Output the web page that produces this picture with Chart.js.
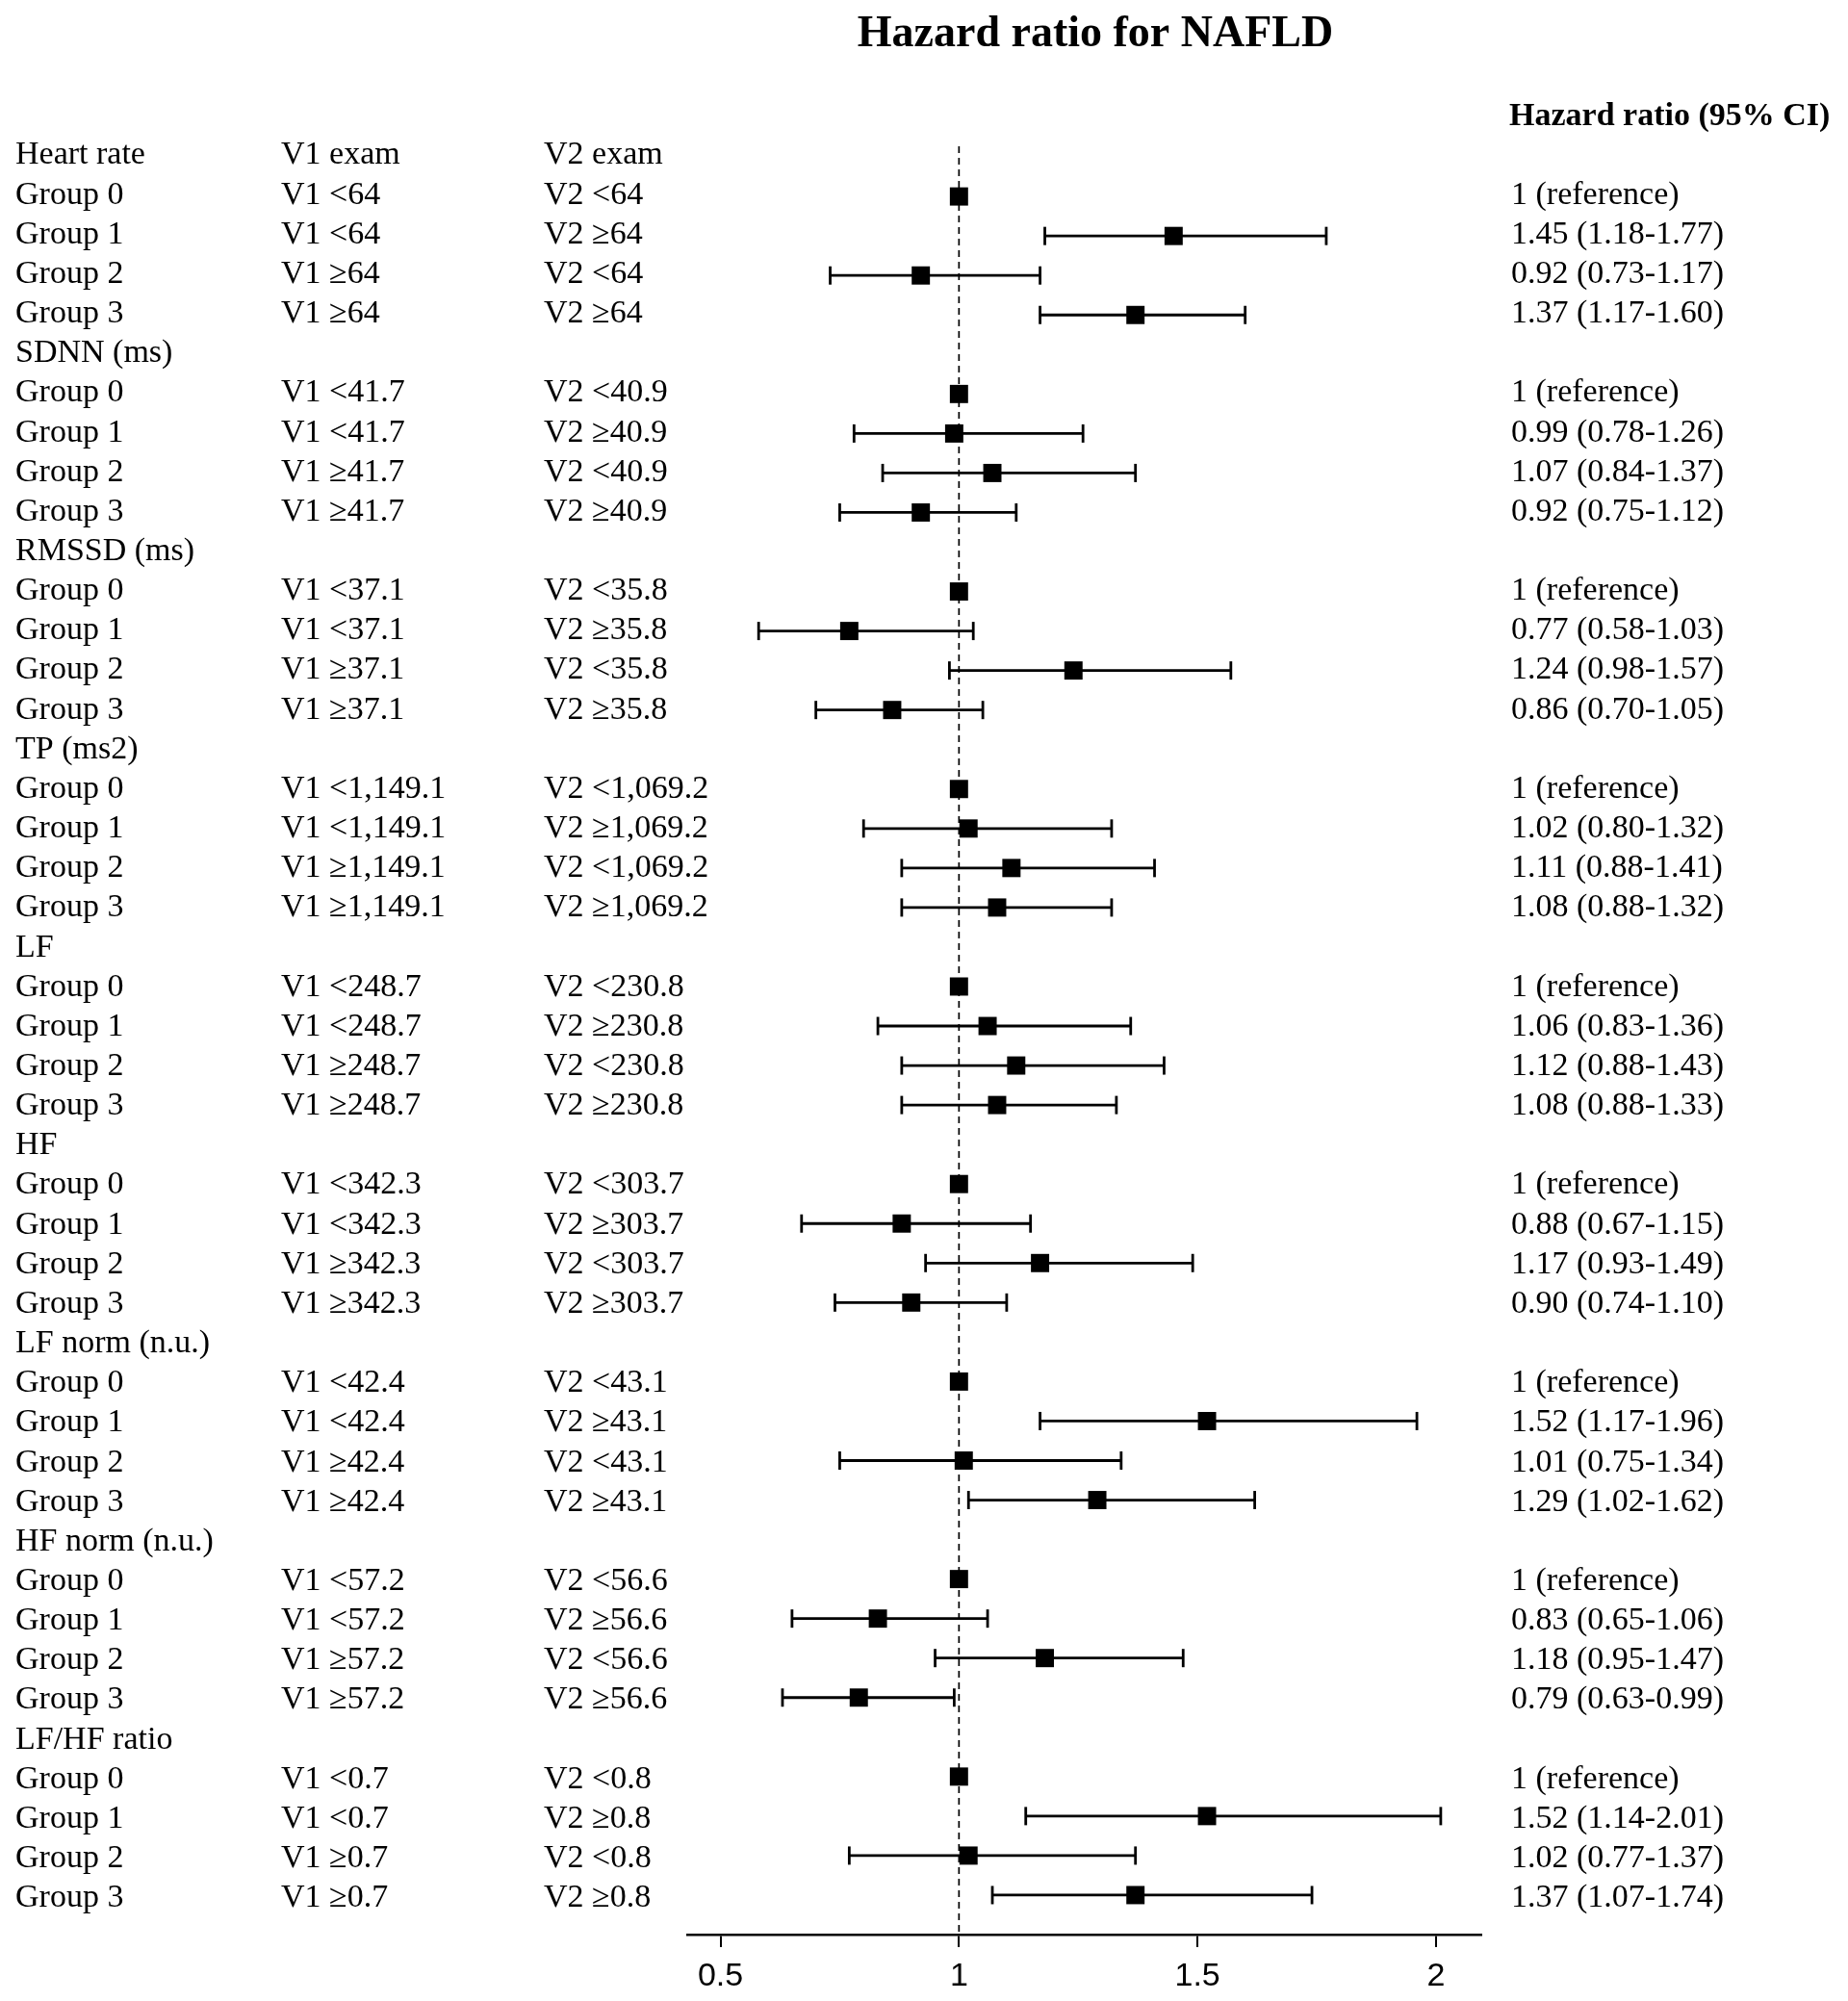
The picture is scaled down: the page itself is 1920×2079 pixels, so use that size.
<!DOCTYPE html>
<html>
<head>
<meta charset="utf-8">
<title>Hazard ratio for NAFLD</title>
<script src="https://cdn.jsdelivr.net/npm/chart.js@4.4.1/dist/chart.umd.min.js"></script>
<style>
  html, body { margin: 0; padding: 0; background: #fff; }
  #wrap { width: 1920px; height: 2079px; position: relative; }
</style>
</head>
<body>
<div id="wrap"><canvas id="forestChart"></canvas></div>
<script>
const categories = ['Heart rate', 'SDNN (ms)', 'RMSSD (ms)', 'TP (ms2)', 'LF', 'HF',
                    'LF norm (n.u.)', 'HF norm (n.u.)', 'LF/HF ratio'];
const groups = ['Group 0', 'Group 1', 'Group 2', 'Group 3'];
const v1Cutoffs = ['64', '41.7', '37.1', '1,149.1', '248.7', '342.3', '42.4', '57.2', '0.7'];
const v2Cutoffs = ['64', '40.9', '35.8', '1,069.2', '230.8', '303.7', '43.1', '56.6', '0.8'];

// 4 groups per category, group 0 is the reference
const hrEstimate = [1, 1.45, 0.92, 1.37,  1, 0.99, 1.07, 0.92,  1, 0.77, 1.24, 0.86,
                    1, 1.02, 1.11, 1.08,  1, 1.06, 1.12, 1.08,  1, 0.88, 1.17, 0.90,
                    1, 1.52, 1.01, 1.29,  1, 0.83, 1.18, 0.79,  1, 1.52, 1.02, 1.37];
const hrLower =    [1, 1.18, 0.73, 1.17,  1, 0.78, 0.84, 0.75,  1, 0.58, 0.98, 0.70,
                    1, 0.80, 0.88, 0.88,  1, 0.83, 0.88, 0.88,  1, 0.67, 0.93, 0.74,
                    1, 1.17, 0.75, 1.02,  1, 0.65, 0.95, 0.63,  1, 1.14, 0.77, 1.07];
const hrUpper =    [1, 1.77, 1.17, 1.60,  1, 1.26, 1.37, 1.12,  1, 1.03, 1.57, 1.05,
                    1, 1.32, 1.41, 1.32,  1, 1.36, 1.43, 1.33,  1, 1.15, 1.49, 1.10,
                    1, 1.96, 1.34, 1.62,  1, 1.06, 1.47, 0.99,  1, 2.01, 1.37, 1.74];
const xTickValues = [0.5, 1, 1.5, 2];

function rowOf(i) {
    return Math.floor(i / 4) * 5 + 1 + (i % 4);
}

function hrText(i) {
    if (i % 4 === 0) return '1 (reference)';
    return `${hrEstimate[i].toFixed(2)} (${hrLower[i].toFixed(2)}-${hrUpper[i].toFixed(2)})`;
}

// text table, one entry per plotted row
const rowLabels = [];
categories.forEach((cat, c) => {
    rowLabels.push({
        name: cat,
        v1: c === 0 ? 'V1 exam' : '',
        v2: c === 0 ? 'V2 exam' : '',
        hr: ''
    });
    groups.forEach((g, k) => {
        const i = c * 4 + k;
        rowLabels.push({
            name: g,
            v1: (k < 2 ? 'V1 <' : 'V1 \u2265') + v1Cutoffs[c],
            v2: (k % 2 === 0 ? 'V2 <' : 'V2 \u2265') + v2Cutoffs[c],
            hr: hrText(i)
        });
    });
});

const boxPoints = hrEstimate.map((v, i) => ({ x: v, y: rowOf(i) }));

// whiskers: one segment per non-reference row, broken by gaps
const ciPoints = [];
hrEstimate.forEach((v, i) => {
    if (i % 4 === 0) return;
    ciPoints.push({ x: hrLower[i], y: rowOf(i) });
    ciPoints.push({ x: hrUpper[i], y: rowOf(i) });
    ciPoints.push({ x: null, y: null });
});

const lastRow = rowLabels.length;

// text lines in the original sit on a slightly wider pitch than the boxes
const textPitch = 1.0027;

const forestText = {
    id: 'forestText',
    afterDraw(chart) {
        const ctx = chart.ctx;
        const yScale = chart.scales.y;
        const textY = i => yScale.getPixelForValue(1 + (i - 1) * textPitch) + 7.5;
        ctx.save();
        ctx.fillStyle = '#000';
        ctx.textBaseline = 'alphabetic';

        ctx.textAlign = 'center';
        ctx.font = 'bold 46px "Liberation Serif"';
        ctx.fillText('Hazard ratio for NAFLD', 1138, 48);

        ctx.textAlign = 'left';
        ctx.font = 'bold 34px "Liberation Serif"';
        ctx.fillText('Hazard ratio (95% CI)', 1568, textY(-1) + 1);

        ctx.font = '34px "Liberation Serif"';
        rowLabels.forEach((r, i) => {
            const py = textY(i);
            ctx.fillText(r.name, 16, py);
            if (r.v1) ctx.fillText(r.v1, 292, py);
            if (r.v2) ctx.fillText(r.v2, 565, py);
            if (r.hr) ctx.fillText(r.hr, 1570, py);
        });
        ctx.restore();
    }
};

new Chart(document.getElementById('forestChart'), {
    data: {
        datasets: [
            {
                type: 'scatter',
                data: boxPoints,
                pointStyle: 'rect',
                pointRadius: 13.4,
                pointHoverRadius: 13.4,
                backgroundColor: '#000',
                borderWidth: 0
            },
            {
                type: 'line',
                data: ciPoints,
                borderColor: '#000',
                borderWidth: 2.8,
                spanGaps: false,
                pointStyle: 'line',
                pointRotation: 90,
                pointRadius: 9.5,
                pointHoverRadius: 9.5,
                pointBorderWidth: 2.8,
                pointBorderColor: '#000'
            },
            {
                type: 'line',
                data: [{ x: 1, y: -0.27 }, { x: 1, y: lastRow }],
                borderColor: '#000',
                borderWidth: 1.7,
                borderDash: [7, 5],
                pointRadius: 0
            }
        ]
    },
    options: {
        responsive: true,
        maintainAspectRatio: false,
        devicePixelRatio: 1,
        animation: false,
        layout: { padding: { left: 714, right: 381, top: 152, bottom: 0 } },
        plugins: {
            legend: { display: false },
            tooltip: { enabled: false }
        },
        scales: {
            x: {
                type: 'linear',
                position: 'bottom',
                min: 0.4303,
                max: 2.095,
                afterBuildTicks: scale => {
                    scale.ticks = xTickValues.map(v => ({ value: v }));
                },
                afterFit: scale => {
                    scale.height = 69;
                },
                grid: {
                    drawOnChartArea: false,
                    drawTicks: true,
                    tickLength: 13,
                    color: '#000',
                    lineWidth: 2
                },
                border: { display: true, color: '#000', width: 2.5 },
                ticks: {
                    color: '#000',
                    padding: 10,
                    maxRotation: 0,
                    autoSkip: false,
                    font: { family: 'Liberation Sans', size: 34 },
                    callback: v => String(v)
                }
            },
            y: {
                type: 'linear',
                display: false,
                reverse: true,
                min: -0.27,
                max: lastRow
            }
        }
    },
    plugins: [forestText]
});
</script>
</body>
</html>
